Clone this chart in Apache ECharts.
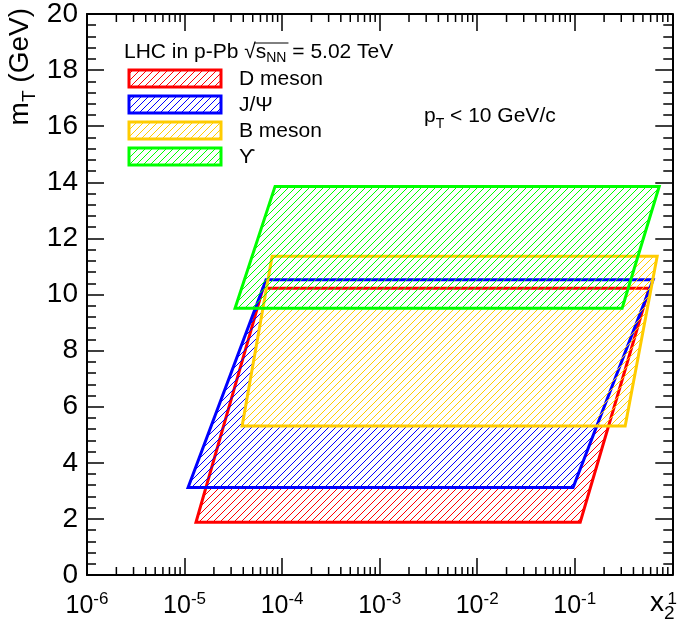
<!DOCTYPE html>
<html lang="en">
<head>
<meta charset="UTF-8">
<title>mT vs x2 coverage, p-Pb 5.02 TeV</title>
<script src="https://cdn.jsdelivr.net/npm/echarts@6/dist/echarts.min.js"></script>
<style>
    body{margin:0;background:#fff}
    .layer{position:absolute;left:0;top:0;width:680px;height:641px;}
</style>
</head>
<body>
<div style="position:relative;width:680px;height:641px;">
    <div id="bands" class="layer"></div>
    <div id="axes" class="layer" style="pointer-events:none;"></div>
    <div id="notes" class="layer" style="pointer-events:none;"></div>
</div>
<script>
    // species and colours
    var names = ['D meson', 'J/\u03A8', 'B meson', '\u03D2'];
    var colors = ['#ff0000', '#0000ff', '#ffcc00', '#00ff00'];
    // mT range (GeV): from the mass up to mT at pT = 10 GeV/c
    var mtLow = [1.87, 3.10, 5.28, 9.46];
    var mtHigh = [10.17, 10.47, 11.30, 13.78];
    // x2 at the four corners of each band
    var x2LowLeft = [1.30e-5, 1.08e-5, 3.85e-5, 3.26e-5];
    var x2LowRight = [0.110, 0.093, 0.317, 0.295];
    var x2HighLeft = [6.3e-5, 6.76e-5, 7.8e-5, 8.36e-5];
    var x2HighRight = [0.557, 0.612, 0.673, 0.706];
    var xMin = 1e-6, xMax = 1;
    var yMin = 0, yMax = 20, yStep = 2;

    var font = '"Liberation Sans", Arial, Helvetica, sans-serif';
    var grid = { left: 87, right: 6, top: 11, bottom: 66 };

    // log minor ticks (2..9 x 10^n)
    var minorX = [];
    for (var e = -6; e < 0; e++) {
        for (var k = 2; k <= 9; k++) minorX.push([k * Math.pow(10, e), 0]);
    }

    function hatch(color) {
        var s = 7, c = document.createElement('canvas');
        c.width = s; c.height = s;
        var g = c.getContext('2d');
        g.strokeStyle = color; g.lineWidth = 1;
        g.beginPath();
        g.moveTo(0, s); g.lineTo(s, 0);
        g.stroke();
        return { image: c, repeat: 'repeat' };
    }

    function band(i) {
        var pts = [[x2LowLeft[i], mtLow[i]], [x2LowRight[i], mtLow[i]],
                   [x2HighRight[i], mtHigh[i]], [x2HighLeft[i], mtHigh[i]]];
        return {
            type: 'custom', silent: true, z: 3 + i, data: pts,
            renderItem: function (params, api) {
                if (params.dataIndex !== 0) return;
                return {
                    type: 'polygon',
                    shape: { points: pts.map(function (d) { return api.coord(d); }) },
                    style: { fill: hatch(colors[i]), stroke: colors[i], lineWidth: 3 }
                };
            }
        };
    }

    function tickSer() {
        return {
            type: 'custom', silent: true, z: 10, data: minorX,
            renderItem: function (params, api) {
                var v = api.value(0);
                var b = api.coord([v, yMin]);
                var t = api.coord([v, yMax]);
                return {
                    type: 'group', children: [
                        { type: 'line', shape: { x1: b[0], y1: b[1], x2: b[0], y2: b[1] - 8 }, style: { stroke: '#000', lineWidth: 1.5 } },
                        { type: 'line', shape: { x1: t[0], y1: t[1], x2: t[0], y2: t[1] + 8 }, style: { stroke: '#000', lineWidth: 1.5 } }
                    ]
                };
            }
        };
    }

    function xAx(pos, labels) {
        return {
            type: 'log', logBase: 10, position: pos, min: xMin, max: xMax, splitNumber: 6,
            axisLine: { show: true, onZero: false, lineStyle: { color: '#000', width: 2 } },
            axisTick: { show: true, inside: true, length: 17, lineStyle: { color: '#000', width: 1.5 } },
            splitLine: { show: false },
            axisLabel: {
                show: labels, margin: 16, interval: 0, showMinLabel: true, showMaxLabel: true, hideOverlap: false,
                formatter: function (v) {
                    var ex = Math.round(Math.log10(v));
                    return ex === 0 ? '{z|\u200b}{s|1}' : '{b|10}{s|' + ex + '}';
                },
                rich: {
                    b: { fontSize: 25, lineHeight: 30, fontFamily: font, color: '#000' },
                    z: { fontSize: 25, lineHeight: 30, fontFamily: font, color: '#000' },
                    s: { fontSize: 17, lineHeight: 18, fontFamily: font, color: '#000', verticalAlign: 'top' }
                }
            }
        };
    }

    function yAx(pos, labels) {
        return {
            type: 'value', position: pos, min: yMin, max: yMax, interval: yStep,
            axisLine: { show: true, onZero: false, lineStyle: { color: '#000', width: 2 } },
            axisTick: { show: true, inside: true, length: 17, lineStyle: { color: '#000', width: 1.5 } },
            minorTick: { show: true, splitNumber: 5, length: 9, lineStyle: { color: '#000', width: 1.5 } },
            splitLine: { show: false },
            axisLabel: { show: labels, margin: 9, fontSize: 28, fontFamily: font, color: '#000' }
        };
    }

    // layer 1: the four bands, on hidden axes with the same scales
    var bandSeries = [];
    for (var i = 0; i < names.length; i++) bandSeries.push(band(i));
    var bandChart = echarts.init(document.getElementById('bands'));
    bandChart.setOption({
        animation: false,
        grid: grid,
        xAxis: { type: 'log', logBase: 10, min: xMin, max: xMax, show: false },
        yAxis: { type: 'value', min: yMin, max: yMax, show: false },
        series: bandSeries
    });

    // layer 2: frame, ticks and tick labels
    var axisChart = echarts.init(document.getElementById('axes'));
    axisChart.setOption({
        animation: false,
        grid: grid,
        xAxis: [xAx('bottom', true), xAx('top', false)],
        yAxis: [yAx('left', true), yAx('right', false)],
        series: [tickSer()]
    });

    // layer 3: legend, annotations and axis titles
    var mctx = document.createElement('canvas').getContext('2d');
    function tw(str, size) { mctx.font = size + 'px ' + font; return mctx.measureText(str).width; }
    var hx = 124, hy = 52;
    var olStart = hx + tw('LHC in p-Pb \u221A', 21) - 1;
    var olEnd = olStart + 1 + tw('s', 21) + tw('NN', 14) + 2;

    var els = [];
    names.forEach(function (n, i) {
        var y = 70 + i * 26;
        els.push({ type: 'rect', shape: { x: 129, y: y, width: 92, height: 17 },
            style: { fill: hatch(colors[i]), stroke: colors[i], lineWidth: 3 } });
        els.push({ type: 'text', x: 239, y: y + 9,
            style: { text: n, fontSize: 21, fontFamily: font, fill: '#000', verticalAlign: 'middle' } });
    });
    els.push({
        type: 'text', x: hx, y: hy,
        style: {
            text: '{a|LHC in p-Pb \u221A}{a|s}{sub|NN}{a| = 5.02 TeV}', verticalAlign: 'middle',
            rich: {
                a: { fontSize: 21, fontFamily: font, fill: '#000', lineHeight: 26 },
                sub: { fontSize: 14, fontFamily: font, fill: '#000', lineHeight: 26, verticalAlign: 'bottom' }
            }
        }
    });
    els.push({ type: 'line', shape: { x1: olStart, y1: 43, x2: olEnd, y2: 43 }, style: { stroke: '#000', lineWidth: 1 } });
    els.push({
        type: 'text', x: 424, y: 116,
        style: {
            text: '{a|p}{sub|T}{a| < 10 GeV/c}', verticalAlign: 'middle',
            rich: {
                a: { fontSize: 21, fontFamily: font, fill: '#000', lineHeight: 26 },
                sub: { fontSize: 14, fontFamily: font, fill: '#000', lineHeight: 30, verticalAlign: 'bottom' }
            }
        }
    });
    els.push({
        type: 'text', x: 20, y: 8, rotation: Math.PI / 2,
        style: {
            text: '{a|m}{sub|T}{a| (GeV)}', align: 'right', verticalAlign: 'middle',
            rich: {
                a: { fontSize: 28, fontFamily: font, fill: '#000', lineHeight: 34 },
                sub: { fontSize: 19, fontFamily: font, fill: '#000', lineHeight: 38, verticalAlign: 'bottom' }
            }
        }
    });
    els.push({
        type: 'text', x: 650, y: 603,
        style: {
            text: '{a|x}{sub|2}', verticalAlign: 'middle',
            rich: {
                a: { fontSize: 28, fontFamily: font, fill: '#000', lineHeight: 30 },
                sub: { fontSize: 19, fontFamily: font, fill: '#000', lineHeight: 40, verticalAlign: 'bottom' }
            }
        }
    });

    var notes = echarts.init(document.getElementById('notes'));
    notes.setOption({ animation: false, graphic: els });
</script>
</body>
</html>
